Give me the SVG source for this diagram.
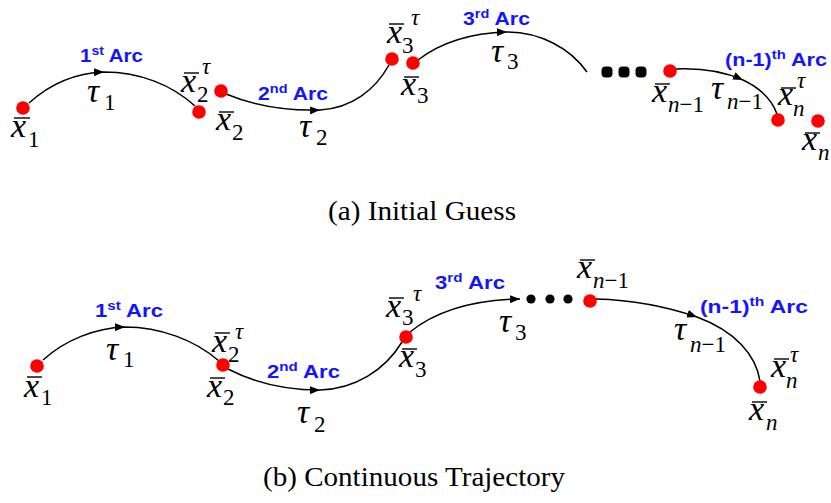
<svg xmlns="http://www.w3.org/2000/svg" width="831" height="503" viewBox="0 0 831 503">
<style>
.m{font-family:"Liberation Serif","Times New Roman",serif;font-style:italic;font-size:34px;fill:#000}
.sd{font-family:"Liberation Serif","Times New Roman",serif;font-style:normal;font-size:23px;fill:#000}
.si{font-family:"Liberation Serif","Times New Roman",serif;font-style:italic;font-size:23px;fill:#000}
.bar{stroke:#000;stroke-width:1.4}
.dot{fill:#ff0000}
.bd{fill:#000}
.curve{fill:none;stroke:#000;stroke-width:1.5}
.arc{font-family:"Liberation Sans",Arial,sans-serif;font-weight:bold;font-size:19px;fill:#1414ff}
.sup{font-size:13px}
.cap{font-family:"Liberation Serif","Times New Roman",serif;font-size:27px;fill:#000}
</style>
<defs>
<marker id="arr" viewBox="0 0 10 8" refX="10" refY="4" markerWidth="10" markerHeight="8" markerUnits="userSpaceOnUse" orient="auto"><path d="M0,0 L10,4 L0,8 z" fill="#000"/></marker>
</defs>

<g id="connectors">
<path class="curve" marker-mid="url(#arr)" d="M29 103 C50 84 75 73 104 72 C140 72 172 85 195 106"/>
<path class="curve" marker-mid="url(#arr)" d="M226 94 C255 106 285 111 320 110 C352 108 375 90 389 65"/>
<path class="curve" marker-mid="url(#arr)" d="M418 60 C440 43 470 33 507 32 C540 32 570 48 587 72"/>
<path class="curve" marker-mid="url(#arr)" d="M676 69 C700 68 725 72 743 80 C760 88 772 100 777 114"/>
<path class="curve" marker-mid="url(#arr)" d="M43 360 C65 340 95 328 125 327 C160 327 195 340 219 361"/>
<path class="curve" marker-mid="url(#arr)" d="M228 369 C255 383 285 390 320 390 C355 389 385 370 402 342"/>
<path class="curve" marker-end="url(#arr)" d="M410 332 C435 312 470 300 520 299"/>
<path class="curve" marker-mid="url(#arr)" d="M596 299 C630 300 665 306 697 317 C735 331 756 355 760 381"/>
</g>

<!-- (a) Initial Guess -->
<g id="a-x1">
<circle class="dot" cx="23" cy="108" r="6.8"/>
<line class="bar" x1="14" y1="118" x2="30" y2="118"/>
<text class="m" x="11" y="137">x</text><text class="sd" x="28" y="147">1</text>
</g>
<g id="a-x2tau">
<circle class="dot" cx="199" cy="112" r="6.8"/>
<line class="bar" x1="184" y1="73" x2="199" y2="73"/>
<text class="m" x="181" y="92">x</text><text class="sd" x="197" y="102">2</text><text class="si" x="202" y="74">τ</text>
</g>
<g id="a-x2">
<circle class="dot" cx="221" cy="91" r="6.8"/>
<line class="bar" x1="219" y1="112" x2="234" y2="112"/>
<text class="m" x="216" y="130">x</text><text class="sd" x="232" y="140">2</text>
</g>
<g id="a-x3tau">
<circle class="dot" cx="392" cy="59" r="6.8"/>
<line class="bar" x1="389" y1="24" x2="404" y2="24"/>
<text class="m" x="387" y="43">x</text><text class="sd" x="402" y="53">3</text><text class="si" x="411" y="25">τ</text>
</g>
<g id="a-x3">
<circle class="dot" cx="413" cy="63" r="6.8"/>
<line class="bar" x1="404" y1="77" x2="419" y2="77"/>
<text class="m" x="401" y="95">x</text><text class="sd" x="417" y="103">3</text>
</g>
<g id="a-ellipsis">
<rect class="bd" x="601.5" y="66.5" width="11" height="11" rx="4"/>
<rect class="bd" x="618.5" y="66.5" width="11" height="11" rx="4"/>
<rect class="bd" x="635.5" y="66.5" width="11" height="11" rx="4"/>
</g>
<g id="a-xn1">
<circle class="dot" cx="670" cy="71" r="6.8"/>
<line class="bar" x1="655" y1="84" x2="670" y2="84"/>
<text class="m" x="652" y="102">x</text><text class="si" x="668" y="112">n<tspan class="sd">−1</tspan></text>
</g>
<g id="a-xntau">
<circle class="dot" cx="778" cy="120" r="6.8"/>
<line class="bar" x1="781" y1="88" x2="796" y2="88"/>
<text class="m" x="778" y="105">x</text><text class="si" x="793" y="116">n</text><text class="si" x="797" y="88">τ</text>
</g>
<g id="a-xn">
<circle class="dot" cx="818" cy="121" r="6.8"/>
<line class="bar" x1="805" y1="133" x2="820" y2="133"/>
<text class="m" x="802" y="150">x</text><text class="si" x="818" y="160">n</text>
</g>
<g id="a-labels">
<text class="m" x="87" y="102">τ</text><text class="sd" x="104" y="110">1</text>
<text class="m" x="299" y="137">τ</text><text class="sd" x="316" y="145">2</text>
<text class="m" x="491" y="62">τ</text><text class="sd" x="507" y="69">3</text>
<text class="m" x="711" y="99">τ</text><text class="si" x="727" y="109">n<tspan class="sd">−1</tspan></text>
<text class="arc" x="80" y="62" textLength="63" lengthAdjust="spacingAndGlyphs">1<tspan class="sup" dy="-7">st</tspan><tspan dy="7"> Arc</tspan></text>
<text class="arc" x="258" y="100" textLength="70" lengthAdjust="spacingAndGlyphs">2<tspan class="sup" dy="-7">nd</tspan><tspan dy="7"> Arc</tspan></text>
<text class="arc" x="463" y="25" textLength="67" lengthAdjust="spacingAndGlyphs">3<tspan class="sup" dy="-7">rd</tspan><tspan dy="7"> Arc</tspan></text>
<text class="arc" x="725" y="66" textLength="102" lengthAdjust="spacingAndGlyphs">(n-1)<tspan class="sup" dy="-7">th</tspan><tspan dy="7"> Arc</tspan></text>
<text class="cap" x="422" y="220" text-anchor="middle" textLength="188" lengthAdjust="spacingAndGlyphs">(a) Initial Guess</text>
</g>

<!-- (b) Continuous Trajectory -->
<g id="b-x1">
<circle class="dot" cx="37" cy="366" r="6.8"/>
<line class="bar" x1="27" y1="377" x2="42" y2="377"/>
<text class="m" x="24" y="397">x</text><text class="sd" x="41" y="405">1</text>
</g>
<g id="b-x2">
<circle class="dot" cx="223" cy="365" r="6.8"/>
<line class="bar" x1="215" y1="333" x2="230" y2="333"/>
<text class="m" x="212" y="352">x</text><text class="sd" x="228" y="362">2</text><text class="si" x="235" y="339">τ</text>
<line class="bar" x1="210" y1="378" x2="225" y2="378"/>
<text class="m" x="207" y="397">x</text><text class="sd" x="223" y="405">2</text>
</g>
<g id="b-x3">
<circle class="dot" cx="406" cy="337" r="6.8"/>
<line class="bar" x1="389" y1="298" x2="404" y2="298"/>
<text class="m" x="386" y="317">x</text><text class="sd" x="402" y="325">3</text><text class="si" x="413" y="301">τ</text>
<line class="bar" x1="402" y1="349" x2="417" y2="349"/>
<text class="m" x="399" y="367">x</text><text class="sd" x="415" y="377">3</text>
</g>
<g id="b-ellipsis">
<circle class="bd" cx="531" cy="299" r="4.6"/>
<circle class="bd" cx="550" cy="299" r="4.6"/>
<circle class="bd" cx="568" cy="299" r="4.6"/>
</g>
<g id="b-xn1">
<circle class="dot" cx="590" cy="301" r="6.8"/>
<line class="bar" x1="580" y1="260" x2="595" y2="260"/>
<text class="m" x="577" y="278">x</text><text class="si" x="593" y="288">n<tspan class="sd">−1</tspan></text>
</g>
<g id="b-xn">
<circle class="dot" cx="760" cy="387" r="6.8"/>
<line class="bar" x1="774" y1="359" x2="789" y2="359"/>
<text class="m" x="771" y="377">x</text><text class="si" x="786" y="388">n</text><text class="si" x="790" y="362">τ</text>
<line class="bar" x1="752" y1="402" x2="767" y2="402"/>
<text class="m" x="749" y="420">x</text><text class="si" x="766" y="430">n</text>
</g>
<g id="b-labels">
<text class="m" x="106" y="360">τ</text><text class="sd" x="123" y="367">1</text>
<text class="m" x="297" y="423">τ</text><text class="sd" x="314" y="432">2</text>
<text class="m" x="499" y="332">τ</text><text class="sd" x="515" y="340">3</text>
<text class="m" x="674" y="340">τ</text><text class="si" x="690" y="352">n<tspan class="sd">−1</tspan></text>
<text class="arc" x="95" y="317" textLength="68" lengthAdjust="spacingAndGlyphs">1<tspan class="sup" dy="-7">st</tspan><tspan dy="7"> Arc</tspan></text>
<text class="arc" x="267" y="378" textLength="73" lengthAdjust="spacingAndGlyphs">2<tspan class="sup" dy="-7">nd</tspan><tspan dy="7"> Arc</tspan></text>
<text class="arc" x="435" y="289" textLength="70" lengthAdjust="spacingAndGlyphs">3<tspan class="sup" dy="-7">rd</tspan><tspan dy="7"> Arc</tspan></text>
<text class="arc" x="700" y="313" textLength="108" lengthAdjust="spacingAndGlyphs">(n-1)<tspan class="sup" dy="-7">th</tspan><tspan dy="7"> Arc</tspan></text>
<text class="cap" x="414" y="486" text-anchor="middle" textLength="302" lengthAdjust="spacingAndGlyphs">(b) Continuous Trajectory</text>
</g>
</svg>
